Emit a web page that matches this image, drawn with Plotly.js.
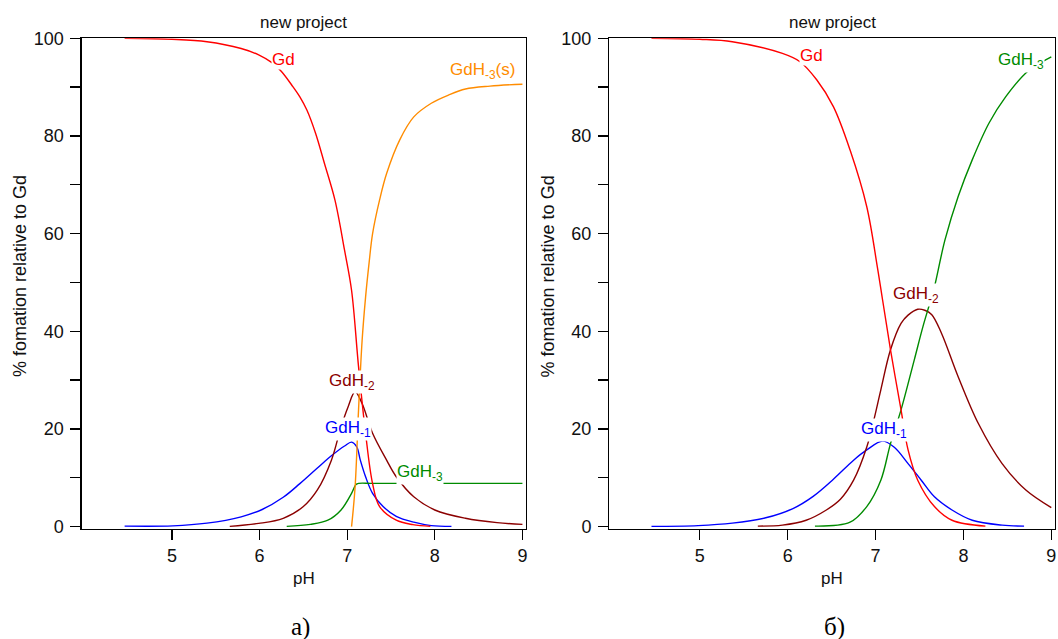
<!DOCTYPE html>
<html>
<head>
<meta charset="utf-8">
<script src="https://cdn.plot.ly/plotly-3.0.1.min.js"></script>
<style>html,body{margin:0;padding:0;background:#fff;}#chart{width:1058px;height:639px;}</style>
</head>
<body>
<div id="chart"></div>
<script>
// ---------- data: panel а) ----------
const phGdA = [4.46, 5.0, 5.40, 5.79, 5.99, 6.15, 6.25, 6.38, 6.46, 6.54, 6.64, 6.74, 6.86, 6.97, 7.05, 7.13, 7.21, 7.29, 7.37, 7.56, 7.75, 7.95];
const gdA   = [100, 99.8, 99.3, 97.9, 96.6, 94.9, 93.2, 90.1, 88.0, 85.3, 80.5, 74.4, 66.9, 56.6, 48.4, 32.7, 19.1, 8.8, 4.1, 1.3, 0.4, 0.05];

const phSolA = [7.05, 7.09, 7.13, 7.17, 7.21, 7.25, 7.29, 7.37, 7.45, 7.60, 7.76, 7.96, 8.16, 8.35, 8.63, 9.0];
const solA   = [0, 8, 24, 38, 47, 54, 60, 66.9, 72.3, 79.2, 83.9, 86.7, 88.4, 89.6, 90.2, 90.6];

const phH2A = [5.66, 5.99, 6.27, 6.50, 6.66, 6.82, 6.93, 7.01, 7.09, 7.17, 7.29, 7.45, 7.56, 7.76, 8.00, 8.35, 8.71, 9.0];
const h2A   = [0.05, 0.65, 1.7, 4.1, 7.5, 13.6, 20.4, 24.5, 27.6, 25.2, 19.1, 13.6, 10.2, 6.1, 3.4, 1.7, 0.8, 0.45];

const phH1A = [4.46, 5.01, 5.40, 5.79, 6.03, 6.27, 6.46, 6.66, 6.82, 6.97, 7.05, 7.11, 7.15, 7.21, 7.29, 7.41, 7.56, 7.76, 7.96, 8.19];
const h1A   = [0.1, 0.15, 0.7, 2.0, 3.5, 6.0, 8.8, 12.0, 14.5, 16.5, 17.3, 16.3, 13.6, 10.2, 6.8, 4.1, 2.1, 0.9, 0.2, 0.05];

const phH3A = [6.31, 6.58, 6.78, 6.93, 7.05, 7.10, 7.13, 7.3, 9.0];
const h3A   = [0.05, 0.45, 1.3, 3.4, 6.8, 8.6, 8.85, 8.85, 8.85];

// ---------- data: panel б) ----------
const phGdB = [4.45, 5.0, 5.37, 5.94, 6.14, 6.33, 6.52, 6.71, 6.90, 7.02, 7.08, 7.17, 7.29, 7.37, 7.48, 7.67, 7.87, 8.25];
const gdB   = [100, 99.8, 99.3, 96.9, 95.2, 91.5, 86.0, 77.1, 65.5, 53.2, 46.4, 36.2, 23.9, 15.7, 9.5, 4.1, 1.3, 0.1];

const phH2B = [5.66, 5.94, 6.21, 6.44, 6.60, 6.75, 6.90, 6.98, 7.06, 7.17, 7.29, 7.37, 7.48, 7.56, 7.64, 7.75, 7.94, 8.17, 8.44, 8.71, 9.0];
const h2B   = [0.1, 0.3, 1.3, 3.4, 5.6, 9.5, 16.3, 21.8, 28, 36.2, 41.6, 43.3, 44.5, 44.3, 43.4, 39.6, 30.7, 21.1, 12.9, 7.5, 3.9];

const phH3B = [6.31, 6.71, 6.90, 7.06, 7.17, 7.29, 7.44, 7.54, 7.63, 7.67, 7.79, 7.94, 8.10, 8.29, 8.48, 8.73, 9.0];
const h3B   = [0.1, 0.9, 4.1, 9.5, 17.0, 23.9, 34.1, 41, 46.5, 49.1, 58.7, 67.6, 75.1, 82.6, 88.0, 93.2, 96.2];

const phH1B = [4.45, 4.98, 5.37, 5.75, 6.06, 6.29, 6.52, 6.75, 6.90, 7.08, 7.21, 7.37, 7.52, 7.67, 7.87, 8.10, 8.44, 8.69];
const h1B   = [0.05, 0.2, 0.7, 1.8, 3.7, 6.2, 9.7, 13.6, 15.7, 17.5, 16.3, 12.9, 9.5, 6.1, 3.4, 1.3, 0.3, 0.1];

// ---------- text ----------
const speciesNames = ['Gd', 'GdH<sub>-1</sub>', 'GdH<sub>-2</sub>', 'GdH<sub>-3</sub>', 'GdH<sub>-3</sub>(s)'];
const xTickVals = [5, 6, 7, 8, 9];
const yTickVals = [0, 20, 40, 60, 80, 100];
const yMinorVals = [10, 30, 50, 70, 90];
const panelTitle = 'new project';
const xTitle = 'pH';
const yTitle = '% fomation relative to Gd';
const panelLetters = ['а)', 'б)'];

// ---------- styling ----------
const C = {gd:'#FF0000', h1:'#0000FF', h2:'#8B0000', h3:'#008B00', sol:'#FF8C00'};
const SANS = 'Liberation Sans, Arial, sans-serif';
const LW = 1.4;

function tr(x, y, color, xa, ya) {
  return {x:x, y:y, type:'scatter', mode:'lines', xaxis:xa, yaxis:ya,
          line:{color:color, width:LW, shape:'spline', smoothing:1},
          hoverinfo:'skip', showlegend:false};
}

const data = [
  tr(phH1A, h1A, C.h1, 'x', 'y'),
  tr(phH2A, h2A, C.h2, 'x', 'y'),
  tr(phH3A, h3A, C.h3, 'x', 'y'),
  tr(phSolA, solA, C.sol, 'x', 'y'),
  tr(phGdA, gdA, C.gd, 'x', 'y'),
  tr(phH1B, h1B, C.h1, 'x2', 'y2'),
  tr(phH2B, h2B, C.h2, 'x2', 'y2'),
  tr(phH3B, h3B, C.h3, 'x2', 'y2'),
  tr(phGdB, gdB, C.gd, 'x2', 'y2')
];

function xax(domain, anchor) {
  return {domain:domain, anchor:anchor, range:[3.97, 9.04], tickmode:'array', tickvals:xTickVals,
          ticks:'outside', ticklen:10, tickwidth:1.3, tickcolor:'#000',
          showline:true, mirror:true, linecolor:'#000', linewidth:1.3,
          showgrid:false, zeroline:false,
          tickfont:{family:SANS, size:18, color:'#111'}};
}
function yax(anchor) {
  return {domain:[0.1721, 0.9401], anchor:anchor, range:[-0.5, 100], tickmode:'array', tickvals:yTickVals,
          ticks:'outside', ticklen:10, tickwidth:1.3, tickcolor:'#000',
          minor:{tickmode:'array', tickvals:yMinorVals, ticks:'outside', ticklen:10, tickwidth:1.3, tickcolor:'#000', showgrid:false},
          showline:true, mirror:true, linecolor:'#000', linewidth:1.3,
          showgrid:false, zeroline:false, ticklabelstandoff:3,
          tickfont:{family:SANS, size:18, color:'#111'}};
}

function paperText(text, x, y, size, extra) {
  return Object.assign({text:text, xref:'paper', yref:'paper', x:x, y:y, showarrow:false,
          xanchor:'center', yanchor:'middle', font:{family:SANS, size:size, color:'#111'}}, extra||{});
}
function curveLabel(text, xr, yr, x, y, color) {
  return {text:text, xref:xr, yref:yr, x:x, y:y, showarrow:false, xanchor:'center', yanchor:'middle',
          bgcolor:'#fff', borderpad:0, font:{family:SANS, size:17, color:color}};
}

const SERIF = {family:'Liberation Serif, Times New Roman, serif', size:25, color:'#000'};
const annotations = [
  paperText(panelTitle, 0.2871, 0.9645, 17),
  paperText(panelTitle, 0.7864, 0.9645, 17),
  paperText(xTitle, 0.2869, 0.0939, 17),
  paperText(xTitle, 0.7861, 0.0939, 17),
  paperText(yTitle, 0.0189, 0.5681, 18, {textangle:-90}),
  paperText(yTitle, 0.5184, 0.5681, 18, {textangle:-90}),
  paperText(panelLetters[0], 0.2836, 0.018, 25, {font:SERIF}),
  paperText(panelLetters[1], 0.7892, 0.018, 25, {font:SERIF}),
  // panel а) curve labels
  curveLabel(speciesNames[0], 'x', 'y', 6.27, 95.6, C.gd),
  curveLabel(speciesNames[4], 'x', 'y', 8.54, 93.3, C.sol),
  curveLabel(speciesNames[2], 'x', 'y', 7.06, 29.6, C.h2),
  curveLabel(speciesNames[1], 'x', 'y', 7.01, 19.9, C.h1),
  curveLabel(speciesNames[3], 'x', 'y', 7.83, 11.0, C.h3),
  // panel б) curve labels
  curveLabel(speciesNames[0], 'x2', 'y2', 6.27, 96.5, C.gd),
  curveLabel(speciesNames[2], 'x2', 'y2', 7.46, 47.4, C.h2),
  curveLabel(speciesNames[1], 'x2', 'y2', 7.10, 19.8, C.h1),
  curveLabel(speciesNames[3], 'x2', 'y2', 8.66, 95.3, C.h3)
];

const layout = {
  width:1058, height:639,
  margin:{l:0, r:0, t:0, b:0},
  paper_bgcolor:'#fff', plot_bgcolor:'#fff',
  showlegend:false,
  xaxis: xax([0.0772, 0.4971], 'y'),
  yaxis: yax('x'),
  xaxis2: xax([0.5759, 0.9970], 'y2'),
  yaxis2: yax('x2'),
  annotations: annotations
};

Plotly.newPlot('chart', data, layout, {staticPlot:true, displayModeBar:false});
</script>
</body>
</html>
